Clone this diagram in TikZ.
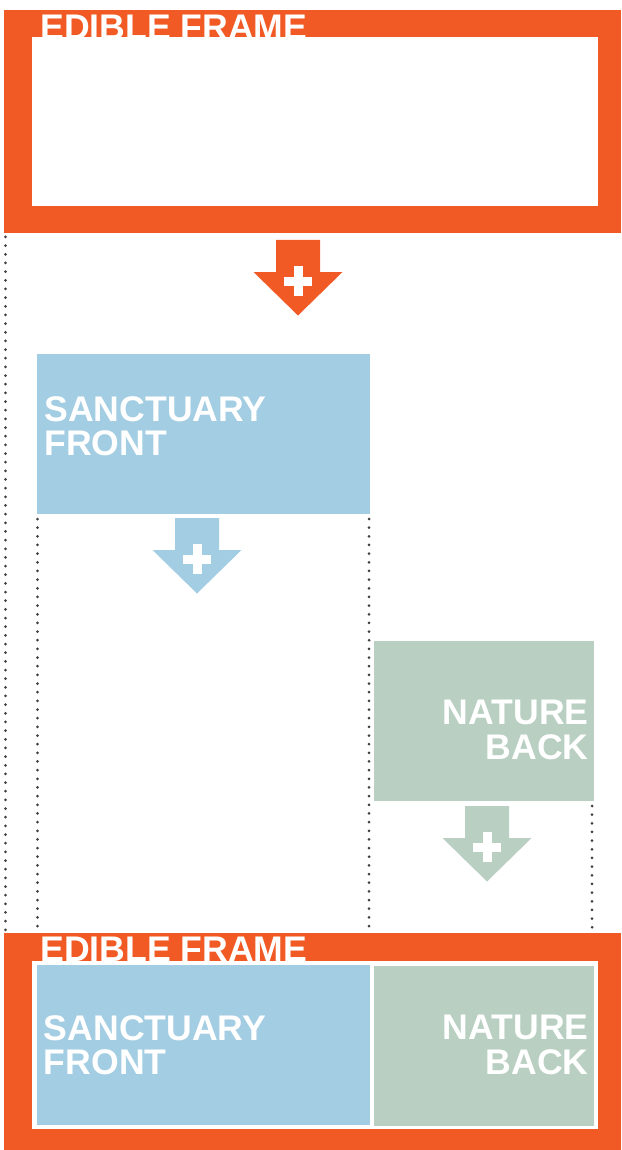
\documentclass[tikz,border=0pt]{standalone}
\usepackage{fontspec}
\usetikzlibrary{calc}
\newfontfamily\boxfont{Liberation Sans}
\definecolor{frameorange}{HTML}{F15A24}
\definecolor{sanctblue}{HTML}{A3CDE2}
\definecolor{naturegreen}{HTML}{B8CFC2}
\tikzset{
  block/.style={inner sep=0pt,outer sep=0pt,anchor=north west},
  boxtext/.style={inner sep=0pt,text=white,align=left,
    font={\boxfont\bfseries\fontsize{17.8}{17.25}\selectfont}},
  guide/.style={draw=black!75,line width=1.5pt,line cap=round,dash pattern=on 0pt off 4.33pt},
  plusarrow/.pic={
    \fill[pic actions] (-22,0) -- (22,0) -- (22,32) -- (44.5,32) -- (0,75.5) -- (-44.5,32) -- (-22,32) -- cycle;
    \fill[white] (-4.5,26) rectangle (4.5,56);
    \fill[white] (-14,36.5) rectangle (14,45.5);
  }
}
\begin{document}
\begin{tikzpicture}[x=0.5pt,y=-0.5pt]
\useasboundingbox (0,0) rectangle (621,1150);
% first stage: empty frame
\node[block,fill=frameorange,minimum width=308.5pt,minimum height=111.5pt] (topframe) at (4,10) {};
\node[block,fill=white,minimum width=283pt,minimum height=84.5pt] (topinner) at (32,37) {};
\node[boxtext,anchor=north west] (toplabel) at (40,15) {EDIBLE FRAME};
\pic[fill=frameorange] (arrA) at (298,240) {plusarrow};

% second stage: sanctuary front
\node[block,fill=sanctblue,minimum width=166.5pt,minimum height=80pt] (sanct) at (37,354) {};
\node[boxtext,anchor=north west] (sancttext) at ($(sanct.north west)+(7,42)$) {SANCTUARY\\FRONT};
\pic[fill=sanctblue] (arrB) at (197,518) {plusarrow};

% third stage: nature back
\node[block,fill=naturegreen,minimum width=110pt,minimum height=80pt] (nature) at (374,641) {};
\node[boxtext,anchor=north east,align=right] (naturetext) at ($(nature.north east)+(-5,59)$) {NATURE\\BACK};
\pic[fill=naturegreen] (arrC) at (487,806) {plusarrow};

% result: filled frame
\node[block,fill=frameorange,minimum width=308.5pt,minimum height=108.5pt] (botframe) at (4,933) {};
\node[block,fill=white,minimum width=283pt,minimum height=84pt] (botinner) at (32,961) {};
\node[boxtext,anchor=north west] (botlabel) at (40,937) {EDIBLE FRAME};
\node[block,fill=sanctblue,minimum width=166.75pt,minimum height=80pt] (botsanct) at (36.5,965) {};
\node[block,fill=naturegreen,minimum width=110pt,minimum height=80pt] (botnature) at (374,966) {};
\node[boxtext,anchor=north west] (botsancttext) at ($(botsanct.north west)+(7,50)$) {SANCTUARY\\FRONT};
\node[boxtext,anchor=north east,align=right] (botnaturetext) at ($(botnature.north east)+(-5,49)$) {NATURE\\BACK};

% guide lines
\coordinate (gA) at ($(topframe.south west)+(1.5,4)$);
\draw[guide] (gA) -- (gA |- botframe.north);
\coordinate (gB) at ($(sanct.south west)+(0.5,5)$);
\draw[guide] (gB) -- (gB |- botframe.north);
\coordinate (gC) at ($(sanct.south east)+(-1,5)$);
\draw[guide] (gC) -- (gC |- botframe.north);
\coordinate (gD) at ($(nature.south east)+(-2,5)$);
\draw[guide] (gD) -- (gD |- botframe.north);
\end{tikzpicture}
\end{document}
